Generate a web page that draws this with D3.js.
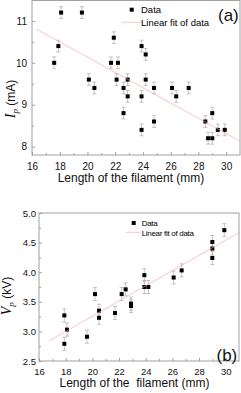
<!DOCTYPE html>
<html>
<head>
<meta charset="utf-8">
<script src="https://cdn.jsdelivr.net/npm/d3@7"></script>
<style>
  body { margin: 0; background: #fff; }
  svg { display: block; font-family: "Liberation Sans", Arial, sans-serif; }
  .frame { fill: none; stroke: #a0a0a0; stroke-width: 1; }
  .axis path { display: none; }
  .axis line { stroke: #a0a0a0; }
  .axis text { fill: #111; }
</style>
</head>
<body>
<div id="chart"></div>
<script>
// Panel (a): plasma current vs filament length
var lenA = [17.6, 17.9, 18.1, 19.6, 20.1, 20.5, 21.7, 21.9, 22.1, 22.2, 22.6, 22.6, 22.9, 22.9, 23.9,
            23.9, 23.9, 24.2, 24.2, 24.8, 24.8, 26.1, 26.4, 27.3, 28.5, 28.7, 29.0, 29.0, 29.4, 29.9];
var ipA = [10.0, 10.4, 11.2, 11.2, 9.6, 9.4, 10.0, 10.6, 9.6, 10.0, 9.4, 8.8, 9.6, 9.2, 10.4,
           9.2, 8.4, 10.2, 9.6, 9.4, 8.6, 9.4, 9.2, 9.4, 8.6, 8.2, 8.8, 8.2, 8.4, 8.4];
var errA = 0.14;
var fitA = [[16.35, 10.80], [31, 8.13]];

// Panel (b): plasma voltage vs filament length
var lenB = [17.9, 17.9, 18.1, 19.6, 20.2, 20.5, 20.5, 21.7, 22.2, 22.5, 22.9, 22.9, 23.9, 23.9,
            24.2, 26.1, 26.7, 29.0, 29.0, 29.0, 29.9];
var vpB = [3.27, 2.79, 3.03, 2.91, 3.63, 3.35, 3.23, 3.31, 3.63, 3.71, 3.47, 3.43, 3.95, 3.75,
           3.75, 3.91, 4.03, 4.51, 4.40, 4.24, 4.71];
var errB = 0.11;
var fitB = [[16.77, 2.84], [31, 4.67]];

// ticks
var xMajor = [16, 18, 20, 22, 24, 26, 28, 30];
var xMinor = [17, 19, 21, 23, 25, 27, 29];
var yMajorA = [8, 9, 10, 11];
var yMinorA = [8.5, 9.5, 10.5];
var yMajorB = [2.5, 3.0, 3.5, 4.0, 4.5, 5.0];
var yMinorB = [2.75, 3.25, 3.75, 4.25, 4.75];

var xTitle = "Length of the filament (mm)";
var xTitleB = "Length of the\u00a0 filament (mm)";

var fitColor = '#f4a4a4';

var svg = d3.select('#chart')
    .append('svg')
    .attr('width', 241)
    .attr('height', 393);

function drawPanel(p) {
    var x = d3.scaleLinear().domain([16, 31]).range([p.left, p.right]);
    var y = d3.scaleLinear().domain(p.yDomain).range([p.bottom, p.top]);
    var g = svg.append('g');

    g.append('rect')
        .attr('class', 'frame')
        .attr('x', p.left)
        .attr('y', p.top)
        .attr('width', p.right - p.left)
        .attr('height', p.bottom - p.top);

    // x axis, ticks pointing inside
    g.append('g')
        .attr('class', 'axis')
        .attr('transform', 'translate(0,' + p.bottom + ')')
        .call(d3.axisBottom(x).tickValues(xMajor).tickSizeInner(-3).tickSizeOuter(0)
            .tickPadding(p.xPad).tickFormat(d3.format('d')))
        .selectAll('text').style('font-size', p.tickFont + 'px');
    g.append('g')
        .attr('class', 'axis')
        .attr('transform', 'translate(0,' + p.bottom + ')')
        .call(d3.axisBottom(x).tickValues(xMinor).tickSizeInner(-2).tickSizeOuter(0).tickFormat(''));

    // y axis
    g.append('g')
        .attr('class', 'axis')
        .attr('transform', 'translate(' + p.left + ',0)')
        .call(d3.axisLeft(y).tickValues(p.yMajor).tickSizeInner(-3).tickSizeOuter(0)
            .tickPadding(p.yPad).tickFormat(p.yFormat))
        .selectAll('text').style('font-size', p.tickFont + 'px');
    g.append('g')
        .attr('class', 'axis')
        .attr('transform', 'translate(' + p.left + ',0)')
        .call(d3.axisLeft(y).tickValues(p.yMinor).tickSizeInner(-2).tickSizeOuter(0).tickFormat(''));

    // error bars
    var pts = p.xs.map(function(v, i) { return {x: v, y: p.ys[i]}; });
    var eb = g.append('g').attr('stroke', '#b4b4b4').attr('stroke-width', 0.8);
    pts.forEach(function(d) {
        var cx = x(d.x), y0 = y(d.y - p.err), y1 = y(d.y + p.err);
        eb.append('line').attr('x1', cx).attr('x2', cx).attr('y1', y0).attr('y2', y1);
        eb.append('line').attr('x1', cx - 2).attr('x2', cx + 2).attr('y1', y0).attr('y2', y0);
        eb.append('line').attr('x1', cx - 2).attr('x2', cx + 2).attr('y1', y1).attr('y2', y1);
    });

    // data squares
    g.selectAll('rect.pt')
        .data(pts)
        .enter()
        .append('rect')
        .attr('class', 'pt')
        .attr('x', function(d) { return x(d.x) - 2; })
        .attr('y', function(d) { return y(d.y) - 2; })
        .attr('width', 4)
        .attr('height', 4)
        .attr('fill', '#000');

    // linear fit
    g.append('path')
        .datum(p.fit)
        .attr('fill', 'none')
        .attr('stroke', fitColor)
        .attr('stroke-opacity', 0.8)
        .attr('stroke-width', 0.8)
        .attr('d', d3.line().x(function(d) { return x(d[0]); }).y(function(d) { return y(d[1]); }));

    // legend
    var lg = p.legend;
    g.append('rect').attr('x', lg.x - 2).attr('y', lg.y1 - 2).attr('width', 4).attr('height', 4).attr('fill', '#000');
    g.append('text').attr('x', lg.tx).attr('y', lg.y1 + 3.2).attr('font-size', lg.font)
        .attr('letter-spacing', lg.ls).text('Data');
    g.append('line').attr('x1', lg.lx0).attr('x2', lg.lx1).attr('y1', lg.y2).attr('y2', lg.y2)
        .attr('stroke', fitColor).attr('stroke-opacity', 0.8).attr('stroke-width', 0.8);
    g.append('text').attr('x', lg.tx).attr('y', lg.y2 + 3.4).attr('font-size', lg.font)
        .attr('letter-spacing', lg.ls).text('Linear fit of data');

    // panel tag
    g.append('text').attr('x', p.tag.x).attr('y', p.tag.y).attr('font-size', 17)
        .attr('fill', '#111').text(p.tag.text);

    // x title
    g.append('text')
        .attr('x', (p.left + 226) / 2 + 2)
        .attr('y', p.titleY)
        .attr('text-anchor', 'middle')
        .attr('font-size', 12)
        .attr('fill', '#111')
        .text(p.xTitle);

    // y title
    var yt = g.append('text')
        .attr('transform', 'translate(' + p.yTitle.x + ',' + p.yTitle.y + ') rotate(-90)')
        .attr('text-anchor', 'middle')
        .attr('font-size', 12)
        .attr('fill', '#111');
    yt.append('tspan').attr('font-family', '"Liberation Serif", serif').attr('font-style', 'italic')
        .attr('font-size', 14).text(p.yTitle.sym);
    yt.append('tspan').attr('font-family', '"Liberation Serif", serif').attr('font-style', 'italic')
        .attr('font-size', 9).attr('dy', 3).text('p');
    yt.append('tspan').attr('dy', -3).text(' ' + p.yTitle.unit);
}

drawPanel({
    left: 32, right: 240, top: 0.5, bottom: 155,
    yDomain: [7.8, 11.5 - 0.5 / 41.9],
    xs: lenA, ys: ipA, err: errA, fit: fitA,
    yMajor: yMajorA, yMinor: yMinorA, yFormat: d3.format('d'),
    tickFont: 10, xPad: 8, yPad: 5,
    legend: {x: 131.7, y1: 9.7, tx: 141, lx0: 121.7, lx1: 142, y2: 22.3, font: 9.5, ls: 0},
    tag: {x: 218, y: 21, text: '(a)'},
    titleY: 182, xTitle: xTitle,
    yTitle: {x: 15, y: 99, sym: 'I', unit: '(mA)'}
});

drawPanel({
    left: 39, right: 239, top: 213, bottom: 361,
    yDomain: [2.5, 5.0],
    xs: lenB, ys: vpB, err: errB, fit: fitB,
    yMajor: yMajorB, yMinor: yMinorB, yFormat: d3.format('.1f'),
    tickFont: 9.5, xPad: 7, yPad: 3,
    legend: {x: 133.7, y1: 223, tx: 141.7, lx0: 126, lx1: 140.7, y2: 232.3, font: 8, ls: -0.3},
    tag: {x: 216.5, y: 361, text: '(b)'},
    titleY: 387, xTitle: xTitleB,
    yTitle: {x: 11, y: 296, sym: 'V', unit: '(kV)'}
});
</script>
</body>
</html>
